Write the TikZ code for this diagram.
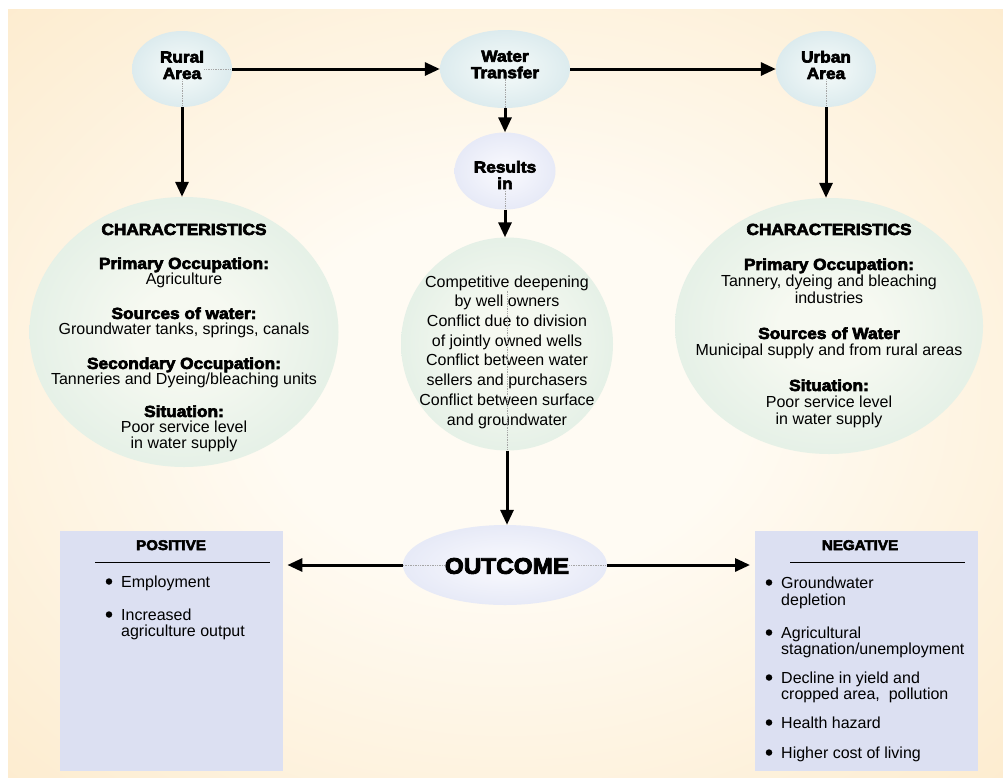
\documentclass[tikz,border=0pt]{standalone}
\usepackage{fontspec}
\setmainfont{Liberation Sans}
\newfontfamily\heavy[FakeBold=4,FakeStretch=1.08]{Liberation Sans Bold}
\usetikzlibrary{arrows.meta,shapes.geometric,calc}

% palette
\definecolor{bgin}{HTML}{FFFBF3}
\definecolor{bgout}{HTML}{FBE3BA}
\definecolor{tealin}{HTML}{EEF6F6}
\definecolor{tealout}{HTML}{C2DBE2}
\definecolor{lavin}{HTML}{F4F5FC}
\definecolor{lavout}{HTML}{D3D9EF}
\definecolor{mintin}{HTML}{F6F9F1}
\definecolor{mintout}{HTML}{CDE4D8}
\definecolor{boxfill}{HTML}{DCE0F2}

% soft glows: light centre fading to the rim colour
\pgfdeclareradialshading{bgglow}{\pgfpointorigin}{color(0bp)=(bgin); color(12bp)=(bgin); color(50bp)=(bgout); color(72bp)=(bgout)}
\pgfdeclareradialshading{tealglow}{\pgfpointorigin}{color(0bp)=(tealin); color(8bp)=(tealin); color(50bp)=(tealout)}
\pgfdeclareradialshading{lavglow}{\pgfpointorigin}{color(0bp)=(lavin); color(8bp)=(lavin); color(50bp)=(lavout)}
\pgfdeclareradialshading{mintglow}{\pgfpointorigin}{color(0bp)=(mintin); color(8bp)=(mintin); color(50bp)=(mintout)}

\begin{document}
\begin{tikzpicture}[x=1pt,y=-1pt,
  >={Triangle[length=15pt,width=13pt]},
  link/.style={line width=3pt,->},
  dots/.style={densely dotted,gray!70,line width=0.7pt},
  blob/.style={ellipse,inner sep=0pt,draw=none},
  title/.style={align=center,inner sep=0pt,font=\heavy\fontsize{16}{16.5}\selectfont},
  body/.style={align=center,inner sep=0pt},
  boxhead/.style={anchor=base,inner sep=0pt,font=\heavy\fontsize{14}{15}\selectfont},
  item/.style={anchor=base west,inner sep=0pt,font=\fontsize{16}{17}\selectfont},
  bul/.style={circle,fill=black,inner sep=0pt,minimum size=6.5pt},
  panel/.style={fill=boxfill,draw=none,inner sep=0pt,anchor=north west},
  rule/.style={line width=0.8pt}
]
\useasboundingbox (0,0) rectangle (1003,777);
\fill[white] (0,0) rectangle (1003,777);
\shade[shading=bgglow] (8,9) rectangle (1003,777);

% ---- ellipses ----
\node[blob,shading=tealglow,minimum width=100pt,minimum height=76pt] (rural) at (182,69) {};
\node[blob,shading=tealglow,minimum width=130pt,minimum height=78pt] (water) at (505,69) {};
\node[blob,shading=tealglow,minimum width=100pt,minimum height=76pt] (urban) at (826,69) {};
\node[blob,shading=lavglow,minimum width=101pt,minimum height=77pt] (results) at (505,171) {};
\node[blob,shading=mintglow,minimum width=309pt,minimum height=270pt] (leftell) at (184,332) {};
\node[blob,shading=mintglow,minimum width=308pt,minimum height=256pt] (rightell) at (829,326) {};
\node[blob,shading=mintglow,minimum width=212pt,minimum height=213pt] (middle) at (507,344) {};
\node[blob,shading=lavglow,minimum width=204pt,minimum height=80pt] (outcome) at (505,565) {};

% ---- panels ----
\node[panel,minimum width=223pt,minimum height=240pt] (posbox) at (60,531) {};
\node[panel,minimum width=223pt,minimum height=240pt] (negbox) at (755,531) {};

% ---- ellipse texts ----
\node[title] (ruraltxt) at (182,65) {Rural\\Area};
\node[title] (watertxt) at (505,64.5) {Water\\Transfer};
\node[title] (urbantxt) at (826,65) {Urban\\Area};
\node[title] (resultstxt) at (505,175) {Results\\in};
\node[body,font=\fontsize{16}{16}\selectfont] (lefttxt) at (184,338)
  {{\heavy CHARACTERISTICS}\\[18pt]
   {\heavy Primary Occupation:}\\Agriculture\\[18pt]
   {\heavy Sources of water:}\\Groundwater tanks, springs, canals\\[18pt]
   {\heavy Secondary Occupation:}\\Tanneries and Dyeing/bleaching units\\[16pt]
   {\heavy Situation:}\\Poor service level\\in water supply};
\node[body,font=\fontsize{16}{17}\selectfont] (righttxt) at (829,326)
  {{\heavy CHARACTERISTICS}\\[18pt]
   {\heavy Primary Occupation:}\\Tannery, dyeing and bleaching\\industries\\[18pt]
   {\heavy Sources of Water}\\Municipal supply and from rural areas\\[18pt]
   {\heavy Situation:}\\Poor service level\\in water supply};
\node[body,font=\fontsize{16}{19.7}\selectfont] (midtxt) at (507,352)
  {Competitive deepening\\by well owners\\Conflict due to division\\of jointly owned wells\\
   Conflict between water\\sellers and purchasers\\Conflict between surface\\and groundwater};
\node[inner sep=0pt,font=\heavy\fontsize{22.5}{24}\selectfont] (outtxt) at (507,566) {OUTCOME};

% ---- faint guide lines inside the ellipses ----
\draw[dots] (ruraltxt.south) -- (rural.south);
\draw[dots] (rural.east) -- (rural.east -| ruraltxt.east);
\draw[dots] (urbantxt.south) -- (urban.south);
\draw[dots] (watertxt.south) -- (water.south);
\draw[dots] (resultstxt.south) -- (results.south);
\draw[dots] ($(midtxt.north)!0.1!(midtxt.south)$) -- (middle.south);
\draw[dots] (outcome.west) -- (outcome.west -| outtxt.west);
\draw[dots] (outcome.east) -- (outcome.east -| outtxt.east);

% ---- connectors ----
\draw[link] (rural.east) -- (water.west);
\draw[link] (water.east) -- (urban.west);
\draw[link] (rural.south) -- (rural.south |- leftell.north);
\draw[link] (urban.south) -- (urban.south |- rightell.north);
\draw[link] (water.south) -- (results.north);
\draw[link] (results.south) -- (results.south |- middle.north);
\draw[link] (middle.south) -- (middle.south |- outcome.north);
\draw[link,shorten >=4pt] (outcome.west) -- (outcome.west -| posbox.east);
\draw[link,shorten >=5pt] (outcome.east) -- (outcome.east -| negbox.west);

% ---- positive panel ----
\node[boxhead] (poshead) at (171,550) {POSITIVE};
\draw[rule] (95,562) -- (270,562);
\node[bul] (pb1) at (109,581.5) {};
\node[item] (p1) at (121,587) {Employment};
\node[bul] (pb2) at (109,614.5) {};
\node[item] (p2) at (121,620) {Increased};
\node[item] (p3) at (121,636) {agriculture output};

% ---- negative panel ----
\node[boxhead] (neghead) at (860,550) {NEGATIVE};
\draw[rule] (790,562) -- (965,562);
\node[bul] (nb1) at (769,582.5) {};
\node[item] (n1) at (781,588) {Groundwater};
\node[item] (n2) at (781,605) {depletion};
\node[bul] (nb2) at (769,632.5) {};
\node[item] (n3) at (781,638) {Agricultural};
\node[item] (n4) at (781,654) {stagnation/unemployment};
\node[bul] (nb3) at (769,677.5) {};
\node[item] (n5) at (781,683) {Decline in yield and};
\node[item] (n6) at (781,699) {cropped area,\ \ pollution};
\node[bul] (nb4) at (769,722.5) {};
\node[item] (n7) at (781,728) {Health hazard};
\node[bul] (nb5) at (769,752.5) {};
\node[item] (n8) at (781,758) {Higher cost of living};
\end{tikzpicture}
\end{document}
